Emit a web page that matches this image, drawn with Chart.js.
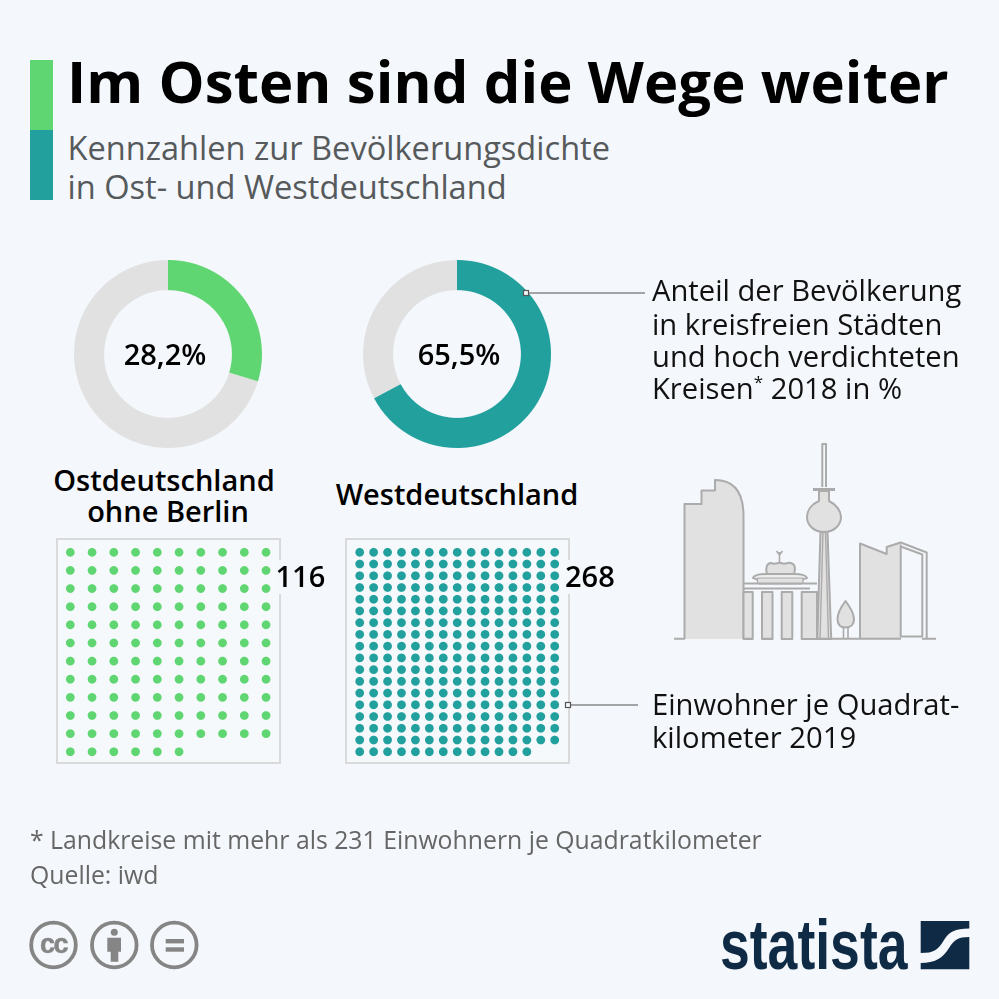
<!DOCTYPE html>
<html lang="de"><head><meta charset="utf-8">
<script src="https://cdn.jsdelivr.net/npm/chart.js@4"></script>
<style>
html,body{margin:0;padding:0;background:#f4f7fb;width:999px;height:999px;overflow:hidden}
body{position:relative;font-family:"Open Sans",sans-serif}
.t{position:absolute;white-space:nowrap;line-height:1}
canvas{position:absolute;display:block}
.box{position:absolute;border:2px solid #dadada;box-sizing:border-box;background:#f6f9fc}
.mask{position:absolute;background:#f4f7fb}
.n{font-size:29px;font-weight:600;color:#000}
.a{left:652px;font-size:29.2px;color:#111}
.f{left:30px;font-size:24.8px;color:#666}
.s{left:67.5px;font-size:32.6px;color:#565a5c}
</style></head><body>
<div style="position:absolute;left:30px;top:60px;width:23px;height:70px;background:#5fd671"></div>
<div style="position:absolute;left:30px;top:130px;width:23px;height:70px;background:#21a09e"></div>
<div class="t" id="title" style="left:67px;top:52px;font-size:58px;font-weight:700;color:#000;letter-spacing:.1px"></div>
<div class="t s" id="sub1" style="top:132px"></div>
<div class="t s" id="sub2" style="top:171px"></div>

<canvas id="d0" style="left:68px;top:254px;width:200px;height:200px"></canvas>
<canvas id="d1" style="left:357px;top:254px;width:200px;height:200px"></canvas>
<div class="t n" id="v0" style="left:65px;top:339px;width:200px;text-align:center"></div>
<div class="t n" id="v1" style="left:359px;top:339px;width:200px;text-align:center"></div>

<div class="t n" id="n0a" style="left:14px;width:300px;top:465px;text-align:center"></div>
<div class="t n" id="n0b" style="left:18px;width:300px;top:496px;text-align:center"></div>
<div class="t n" id="n1" style="left:307px;width:300px;top:479px;text-align:center"></div>

<div class="box" style="left:56px;top:538px;width:225px;height:226px"></div>
<div class="box" style="left:345px;top:538px;width:225px;height:226px"></div>
<canvas id="g0" style="left:56px;top:538px;width:225px;height:226px"></canvas>
<canvas id="g1" style="left:345px;top:538px;width:225px;height:226px"></canvas>
<div class="mask" style="left:277px;top:560px;width:50px;height:34px"></div>
<div class="mask" style="left:566px;top:560px;width:50px;height:34px"></div>
<div class="t n" id="c0" style="left:275.5px;top:561px"></div>
<div class="t n" id="c1" style="left:565px;top:561px"></div>

<svg style="position:absolute;left:0;top:0" width="999" height="999" viewBox="0 0 999 999">
 <g fill="#f6f9fc" stroke="#555" stroke-width="1.2">
  <line x1="526" y1="293" x2="645" y2="293" stroke="#888" stroke-width="1.6"/>
  <rect x="523.5" y="290.5" width="5" height="5"/>
  <line x1="568" y1="705" x2="638" y2="705" stroke="#888" stroke-width="1.6"/>
  <rect x="565.5" y="702.5" width="5" height="5"/>
 </g>
 <!-- skyline -->
 <g stroke="#ababab" stroke-width="2" stroke-linejoin="round" fill="#e1e1e1">
  <path d="M684.5 639V504H701.5V490.5H715V480C732 480 743.5 490 743.5 516V639Z" stroke="none"/>
  <path d="M684.5 639V504H701.5V490.5H715V480C732 480 743.5 490 743.5 516V639" fill="none"/>
  <path d="M743.5 592H752.7V639H743.5ZM762 592H772.5V639H762ZM781.7 592H792.3V639H781.7ZM801.7 592H817V639H801.7Z"/>
  <path d="M743.5 583.5H817M743.5 588.5H810" fill="none"/>
  <path d="M767 574C765 568 767 563 771 563C776 565 778 562 781 563C785 565 788 562 791 563C795 564 796 569 794 574Z"/>
  <path d="M759 583.5C758 579 756 579 753 578C754 575 758 574 767 574H794C802 574 806 575 807 578C804 579 802 579 801 583.5Z" fill="#eeeeee"/>
  <path d="M757.5 578H803V583H757.5Z" stroke-width="1.2"/>
  <path d="M779.5 562V552M776.5 551L779.5 555L782.5 551" fill="none" stroke-width="1.6"/>
  <path d="M820.5 532L817.3 639H831.2L827.5 532" />
  <path d="M823 532L820 639M825.5 532L828.5 639" fill="none" stroke-width="1.4"/>
  <path d="M819 491V501C812 504 807 510 807 517C807 526 815 532 824 532C833 532 841 526 841 517C841 510 835 504 829 501V491Z"/>
  <path d="M813 489.5H835" fill="none" stroke-width="3"/>
  <path d="M822.3 487V444H826V487" fill="#f4f7fb"/>
  <path d="M845.5 601C841 607 837.5 613 837.5 619C837.5 625 841 627.5 845.5 627.5C850 627.5 854 625 854 619C854 613 850 607 845.5 601Z"/>
  <path d="M843.5 627.5V639M848 627.5V639" fill="none" stroke-width="1.6"/>
  <path d="M860.5 638V544L886.7 554V547L900.7 543V638Z" stroke="none"/>
  <path d="M860 639V543.5L886.7 554V547L900.7 542.5L926.7 552.5V638" fill="none"/>
  <path d="M900.7 544.5V636.5H922.3V554.5L900.7 546.5" fill="#f4f7fb"/>
  <path d="M674 638.8H685M743.5 638.8H752.7M762 638.8H772.5M817 638.8H860M860 638.8H901M922 638.8H936" fill="none"/>
 </g>
 <!-- cc icons -->
 <g fill="none" stroke="#858585" stroke-width="3.8">
  <circle cx="53.5" cy="945" r="22.3"/><circle cx="114.3" cy="945" r="22.3"/><circle cx="174.3" cy="945" r="22.3"/>
 </g>
 <g fill="#858585">
  <circle cx="114.3" cy="932.2" r="3.5"/><path d="M107.3 937.7H121V951.7H118.3V961.7H110.7V951.7H107.3Z"/>
  <rect x="165.7" y="939" width="18.3" height="4.4"/><rect x="165.7" y="947.3" width="18.3" height="4.4"/>
 </g>
 <text x="53.5" y="952.5" text-anchor="middle" font-family="'Liberation Sans',sans-serif" font-weight="700" font-size="27" fill="#858585" stroke="#858585" stroke-width=".5" letter-spacing="-1.5">cc</text>
 <!-- logo mark -->
 <g fill="#0f2a44">
  <path d="M920.7 921H969.3V928.5C955 928.5 949 932 944 940C938 950 934 953 920.7 953Z"/>
  <path d="M969.3 937V969.3H920.7V963C935 963 943 958 949 948C954 940 958 937 969.3 937Z"/>
 </g>
</svg>
<div class="t a" id="a1" style="top:276px"></div>
<div class="t a" id="a2" style="top:310px"></div>
<div class="t a" id="a3" style="top:342px"></div>
<div class="t a" id="a4" style="top:374px"></div>
<div class="t a" id="e1" style="top:690px"></div>
<div class="t a" id="e2" style="top:722.5px"></div>
<div class="t f" id="f1" style="top:826.5px"></div>
<div class="t f" id="f2" style="top:861.5px"></div>
<div class="t" id="logo" style="left:720px;top:910px;font-family:'Liberation Sans',sans-serif;font-weight:700;font-size:70px;color:#0f2a44;transform-origin:0 0;transform:scaleX(.765)"></div>
<script>
const titleText = "Im Osten sind die Wege weiter";
const subtitleLines = ["Kennzahlen zur Bevölkerungsdichte", "in Ost- und Westdeutschland"];
const regionsEast = ["Ostdeutschland", "ohne Berlin"];
const regionWest = "Westdeutschland";
const shareLabels = ["28,2%", "65,5%"];
const arcValues = [29.7, 67.2];
const densityValues = [116, 268];
const gridColumns = [10, 15];
const shareNote = ["Anteil der Bevölkerung", "in kreisfreien Städten", "und hoch verdichteten", "Kreisen<sup style='font-size:17px;line-height:0'>*</sup> 2018 in %"];
const densityNote = ["Einwohner je Quadrat-", "kilometer 2019"];
const footnotes = ["* Landkreise mit mehr als 231 Einwohnern je Quadratkilometer", "Quelle: iwd"];
const colors = ["#5fd671", "#21a09e"];
const restColor = "#e1e1e1";

const $ = id => document.getElementById(id);
$("title").textContent = titleText;
$("sub1").textContent = subtitleLines[0];
$("sub2").textContent = subtitleLines[1];
$("n0a").textContent = regionsEast[0];
$("n0b").textContent = regionsEast[1];
$("n1").textContent = regionWest;
shareLabels.forEach((s,i)=>{ $("v"+i).textContent = s; });
densityValues.forEach((v,i)=>{ $("c"+i).textContent = v; });
shareNote.forEach((s,i)=>{ $("a"+(i+1)).innerHTML = s; });
densityNote.forEach((s,i)=>{ $("e"+(i+1)).textContent = s; });
$("f1").textContent = footnotes[0];
$("f2").textContent = footnotes[1];
$("logo").textContent = "statista";

Chart.defaults.animation = false;
Chart.defaults.responsive = false;
Chart.defaults.devicePixelRatio = 2;

arcValues.forEach((v,i)=>{
  const cv = $("d"+i); cv.width = 200; cv.height = 200;
  new Chart(cv, {
    type: "doughnut",
    data: { labels: ["Anteil","Rest"], datasets: [{ data: [v, 100-v], backgroundColor: [colors[i], restColor], borderWidth: 0 }] },
    options: { cutout: "68%", radius: 94, plugins: { legend: {display:false}, tooltip: {enabled:false} }, layout: {padding:0} }
  });
});

const geom = [
  { x0: 70.3, dx: 21.75, y0: 552.3, dy: 18.13, left: 56, r: 4.4 },
  { x0: 359.7, dx: 13.93, y0: 552.3, dy: 11.73, left: 345, r: 4.4 }
];
densityValues.forEach((n,i)=>{
  const cv = $("g"+i); cv.width = 225; cv.height = 226;
  const g = geom[i], cols = gridColumns[i];
  const pts = [];
  for (let k=0;k<n;k++) pts.push({ x: k%cols, y: Math.floor(k/cols) });
  new Chart(cv, {
    type: "scatter",
    data: { datasets: [{ data: pts, backgroundColor: colors[i], borderWidth: 0, pointRadius: g.r, pointHoverRadius: g.r }] },
    options: {
      layout: {padding:0, autoPadding:false},
      plugins: { legend: {display:false}, tooltip: {enabled:false} },
      scales: {
        x: { display:false, min: (g.left-g.x0)/g.dx, max: (g.left+225-g.x0)/g.dx },
        y: { display:false, reverse:true, min: (538-g.y0)/g.dy, max: (538+226-g.y0)/g.dy }
      }
    }
  });
});
</script>
</body></html>
